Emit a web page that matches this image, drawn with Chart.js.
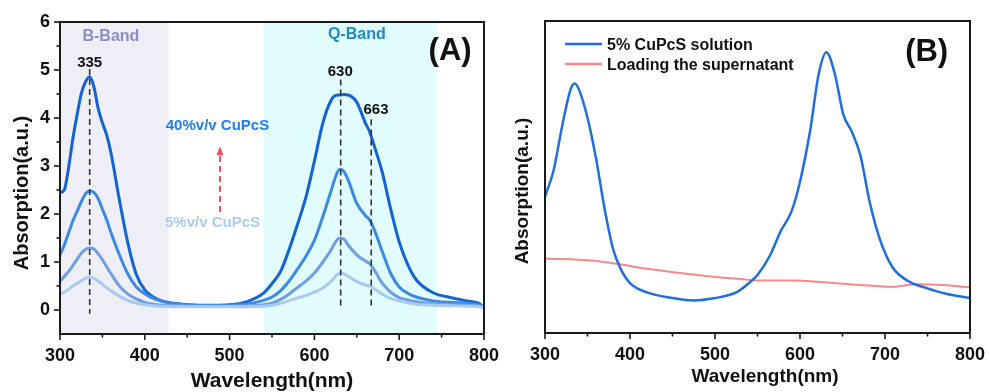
<!DOCTYPE html>
<html><head><meta charset="utf-8">
<script src="https://cdn.jsdelivr.net/npm/chart.js@4.4.0/dist/chart.umd.min.js"></script>
<style>
html,body{margin:0;padding:0;background:#fff;}
#wrap{position:relative;width:989px;height:392px;overflow:hidden;background:#fff;}
#cA{position:absolute;left:0;top:0;}
#cB{position:absolute;left:500px;top:0;}
</style></head><body>
<div id="wrap"><canvas id="cA" width="510" height="392"></canvas><canvas id="cB" width="489" height="392"></canvas></div>
<script>
const FONT = "'Liberation Sans', Arial, Helvetica, sans-serif";

// ---------- Panel A data ----------
const wavelengthA = [300,305,310,315,320,325,330,335,340,345,350,355,360,370,380,390,400,410,420,440,460,480,500,520,540,550,560,570,580,590,600,610,620,625,630,635,640,650,660,665,670,680,690,700,710,720,740,760,780,790,795,800];
const absTop = [2.45,2.50,2.95,3.55,4.05,4.50,4.75,4.86,4.65,4.20,3.90,3.65,3.28,2.30,1.40,0.74,0.42,0.27,0.19,0.13,0.10,0.10,0.11,0.17,0.35,0.55,0.80,1.25,1.78,2.35,3.10,3.90,4.38,4.47,4.48,4.49,4.48,4.33,3.90,3.72,3.45,2.87,2.10,1.42,0.95,0.63,0.36,0.26,0.19,0.16,0.13,0.04];
const absSecond = [1.15,1.35,1.60,1.85,2.05,2.25,2.42,2.48,2.45,2.32,2.10,1.88,1.62,1.15,0.75,0.48,0.34,0.24,0.18,0.12,0.10,0.09,0.10,0.12,0.20,0.27,0.40,0.60,0.85,1.12,1.45,1.95,2.50,2.78,2.93,2.88,2.70,2.22,1.97,1.88,1.70,1.22,0.76,0.48,0.35,0.27,0.19,0.16,0.14,0.12,0.10,0.05];
const absThird = [0.60,0.70,0.80,0.92,1.05,1.18,1.26,1.29,1.27,1.17,1.05,0.90,0.76,0.50,0.33,0.23,0.16,0.12,0.10,0.09,0.08,0.08,0.08,0.09,0.11,0.14,0.22,0.33,0.47,0.60,0.77,1.00,1.26,1.42,1.50,1.47,1.35,1.15,1.02,0.97,0.85,0.56,0.37,0.26,0.21,0.17,0.13,0.11,0.10,0.09,0.08,0.05];
const absBottom = [0.33,0.37,0.43,0.50,0.55,0.61,0.66,0.68,0.66,0.60,0.54,0.46,0.40,0.29,0.20,0.14,0.11,0.09,0.08,0.07,0.07,0.07,0.07,0.07,0.08,0.10,0.14,0.19,0.25,0.30,0.37,0.46,0.60,0.70,0.77,0.75,0.70,0.59,0.52,0.50,0.45,0.33,0.24,0.19,0.15,0.12,0.10,0.09,0.08,0.08,0.07,0.05];
const seriesALabels = ['5%v/v CuPcS','Intermediate (lower)','Intermediate (upper)','40%v/v CuPcS'];
const seriesAColors = ['#a9cbf3','#6d9fe2','#3d89e6','#1463d4'];
const seriesAValues = [absBottom, absThird, absSecond, absTop];

const xTickValues = [300,400,500,600,700,800];
const xMinorValues = [350,450,550,650,750];
const yTickValuesA = [0,1,2,3,4,5,6];
const yMinorValuesA = [0.5,1.5,2.5,3.5,4.5,5.5];
const bBandRange = [300,428];
const qBandRange = [540,745];
const peakLines = [ {x:335, from:-0.08, to:5.02}, {x:631, from:0.08, to:4.80}, {x:667, from:0.09, to:3.97} ];

// ---------- Panel B data ----------
const wavelengthBlue = [300,310,320,330,335,340,350,360,370,380,390,400,420,450,475,500,525,540,550,565,577,590,600,612,622,631,641,651,661,671,682,694,709,729,749,773,800];
const blueSolution = [0.437,0.52,0.66,0.78,0.80,0.78,0.69,0.56,0.40,0.27,0.20,0.16,0.13,0.112,0.104,0.112,0.13,0.16,0.186,0.25,0.325,0.39,0.485,0.65,0.83,0.90,0.83,0.70,0.645,0.57,0.42,0.30,0.21,0.164,0.144,0.125,0.112];
const wavelengthRed = [300,355,386,414,451,490,530,553,592,631,670,709,737,768,800];
const redSupernatant = [0.239,0.232,0.221,0.208,0.195,0.183,0.173,0.168,0.168,0.162,0.154,0.148,0.156,0.154,0.146];
const seriesBLabels = ['5% CuPcS solution','Loading the supernatant'];
const seriesBColors = ['#1f6ee0','#fa8888'];

// ---------- helpers ----------
function line(ctx,x1,y1,x2,y2){ctx.beginPath();ctx.moveTo(x1,y1);ctx.lineTo(x2,y2);ctx.stroke();}
function frameAndTicks(chart, withY){
  const {ctx, chartArea:a, scales:{x,y}} = chart;
  ctx.save();
  ctx.strokeStyle='#1a1a1a';
  ctx.lineWidth=1.6;
  xTickValues.forEach(v=>{const p=x.getPixelForValue(v);line(ctx,p,a.bottom,p,a.bottom+6);});
  xMinorValues.forEach(v=>{const p=x.getPixelForValue(v);line(ctx,p,a.bottom,p,a.bottom+3.5);});
  if(withY){
    yTickValuesA.forEach(v=>{const p=y.getPixelForValue(v);line(ctx,a.left-6,p,a.left,p);});
    yMinorValuesA.forEach(v=>{const p=y.getPixelForValue(v);line(ctx,a.left-3.5,p,a.left,p);});
  }
  ctx.lineWidth=2;
  ctx.strokeRect(a.left,a.top,a.right-a.left,a.bottom-a.top);
  ctx.restore();
}
function text(ctx,str,x,y,size,color,align,baseline){
  ctx.font='bold '+size+'px '+FONT; ctx.fillStyle=color; ctx.textAlign=align||'center'; ctx.textBaseline=baseline||'middle';
  ctx.fillText(str,x,y);
}
function axisTitles(chart, xt, yt){
  const ctx=chart.ctx;
  ctx.save();
  text(ctx,xt.text,xt.x,xt.y,xt.size,'#111','center','alphabetic');
  ctx.translate(yt.x,yt.y); ctx.rotate(-Math.PI/2);
  text(ctx,yt.text,0,0,yt.size,'#111','center','alphabetic');
  ctx.restore();
}

// ---------- Panel A ----------
const pluginA = {
  id:'panelA',
  beforeDatasetsDraw(chart){
    const {ctx, chartArea:a, scales:{x}} = chart;
    ctx.save();
    [[bBandRange,'#eeeef6'],[qBandRange,'#e2fdfd']].forEach(([r,c])=>{
      const x0=x.getPixelForValue(r[0]), x1=x.getPixelForValue(r[1]);
      ctx.fillStyle=c; ctx.fillRect(x0,a.top,x1-x0,a.bottom-a.top);
    });
    ctx.restore();
  },
  afterDatasetsDraw(chart){
    const {ctx, scales:{x,y}} = chart;
    ctx.save();
    ctx.strokeStyle='#333'; ctx.lineWidth=1.6; ctx.setLineDash([6,4]);
    peakLines.forEach(p=>{const px=x.getPixelForValue(p.x); line(ctx,px,y.getPixelForValue(p.to),px,y.getPixelForValue(p.from));});
    // red dashed arrow
    const ax=x.getPixelForValue(488.7);
    ctx.strokeStyle='#f4505e'; ctx.lineWidth=2; ctx.setLineDash([6,4]);
    line(ctx,ax,y.getPixelForValue(2.04),ax,y.getPixelForValue(3.24));
    ctx.setLineDash([]);
    ctx.fillStyle='#f4505e'; ctx.beginPath();
    const tip=y.getPixelForValue(3.41);
    ctx.moveTo(ax,tip); ctx.lineTo(ax-3.5,tip+9); ctx.lineTo(ax+3.5,tip+9); ctx.closePath(); ctx.fill();
    // labels
    text(ctx,'B-Band',x.getPixelForValue(360),y.getPixelForValue(5.70),16,'#8a8ccc');
    text(ctx,'Q-Band',x.getPixelForValue(650),y.getPixelForValue(5.73),16,'#1a8ccc');
    text(ctx,'(A)',x.getPixelForValue(760),y.getPixelForValue(5.38),31,'#111');
    text(ctx,'335',x.getPixelForValue(335),y.getPixelForValue(5.14),15,'#111');
    text(ctx,'630',x.getPixelForValue(630.5),y.getPixelForValue(4.96),15,'#111');
    text(ctx,'663',x.getPixelForValue(672.6),y.getPixelForValue(4.18),15,'#111');
    text(ctx,'40%v/v CuPcS',x.getPixelForValue(485.7),y.getPixelForValue(3.84),15,'#1a7ff0');
    text(ctx,'5%v/v CuPcS',x.getPixelForValue(479.8),y.getPixelForValue(1.81),15,'#a7cdf5');
    ctx.restore();
  },
  afterDraw(chart){
    frameAndTicks(chart,true);
    axisTitles(chart,{text:'Wavelength(nm)',x:272,y:387,size:21},{text:'Absorption(a.u.)',x:28,y:193,size:20});
  }
};

const tickFont = {family:FONT,size:18,weight:'bold'};
new Chart(document.getElementById('cA'),{
  type:'line',
  data:{datasets: seriesAValues.map((vals,i)=>({
    label:seriesALabels[i],
    data: wavelengthA.map((w,j)=>({x:w,y:vals[j]})),
    borderColor:seriesAColors[i], borderWidth:3, pointRadius:0,
    cubicInterpolationMode:'monotone', fill:false
  }))},
  options:{
    responsive:false, animation:false, devicePixelRatio:1,
    layout:{padding:{left:0,top:22,right:26,bottom:0}},
    plugins:{legend:{display:false},tooltip:{enabled:false}},
    scales:{
      x:{type:'linear',min:300,max:800,
        afterBuildTicks:s=>{s.ticks=xTickValues.map(v=>({value:v}));},
        afterFit:s=>{s.height=58;s.paddingLeft=0;s.paddingRight=0;},
        grid:{display:false,drawTicks:false},border:{display:false},
        ticks:{font:tickFont,color:'#111',padding:11,maxRotation:0,autoSkip:false}},
      y:{type:'linear',min:-0.5,max:6,
        afterBuildTicks:s=>{s.ticks=yTickValuesA.map(v=>({value:v}));},
        afterFit:s=>{s.width=60;s.paddingTop=0;s.paddingBottom=0;},
        grid:{display:false,drawTicks:false},border:{display:false},
        ticks:{font:tickFont,color:'#111',padding:10,autoSkip:false}}
    }
  },
  plugins:[pluginA]
});

// ---------- Panel B ----------
const pluginB = {
  id:'panelB',
  afterDatasetsDraw(chart){
    const {ctx, chartArea:a, scales:{x,y}} = chart;
    ctx.save();
    const rows=[44,64];
    seriesBLabels.forEach((lab,i)=>{
      ctx.strokeStyle=seriesBColors[i]; ctx.lineWidth=2.5;
      line(ctx,a.left+20,rows[i],a.left+57,rows[i]);
      text(ctx,lab,a.left+62,rows[i]+6,16,'#111','left','alphabetic');
    });
    text(ctx,'(B)',x.getPixelForValue(749),y.getPixelForValue(0.90),31,'#111');
    ctx.restore();
  },
  afterDraw(chart){
    frameAndTicks(chart,false);
    axisTitles(chart,{text:'Wavelength(nm)',x:265,y:382,size:19},{text:'Absorption(a.u.)',x:27.6,y:191,size:19});
  }
};
new Chart(document.getElementById('cB'),{
  type:'line',
  data:{datasets:[
    {label:seriesBLabels[0],data:wavelengthBlue.map((w,j)=>({x:w,y:blueSolution[j]})),borderColor:seriesBColors[0],borderWidth:2.5,pointRadius:0,cubicInterpolationMode:'monotone',fill:false},
    {label:seriesBLabels[1],data:wavelengthRed.map((w,j)=>({x:w,y:redSupernatant[j]})),borderColor:seriesBColors[1],borderWidth:2,pointRadius:0,cubicInterpolationMode:'monotone',fill:false}
  ]},
  options:{
    responsive:false, animation:false, devicePixelRatio:1,
    layout:{padding:{left:0,top:21,right:19,bottom:0}},
    plugins:{legend:{display:false},tooltip:{enabled:false}},
    scales:{
      x:{type:'linear',min:300,max:800,
        afterBuildTicks:s=>{s.ticks=xTickValues.map(v=>({value:v}));},
        afterFit:s=>{s.height=59;s.paddingLeft=0;s.paddingRight=0;},
        grid:{display:false,drawTicks:false},border:{display:false},
        ticks:{font:tickFont,color:'#111',padding:11,maxRotation:0,autoSkip:false}},
      y:{type:'linear',min:0,max:1,
        afterFit:s=>{s.width=45;s.paddingTop=0;s.paddingBottom=0;},
        grid:{display:false,drawTicks:false},border:{display:false},
        ticks:{display:false}}
    }
  },
  plugins:[pluginB]
});
</script>
</body></html>
